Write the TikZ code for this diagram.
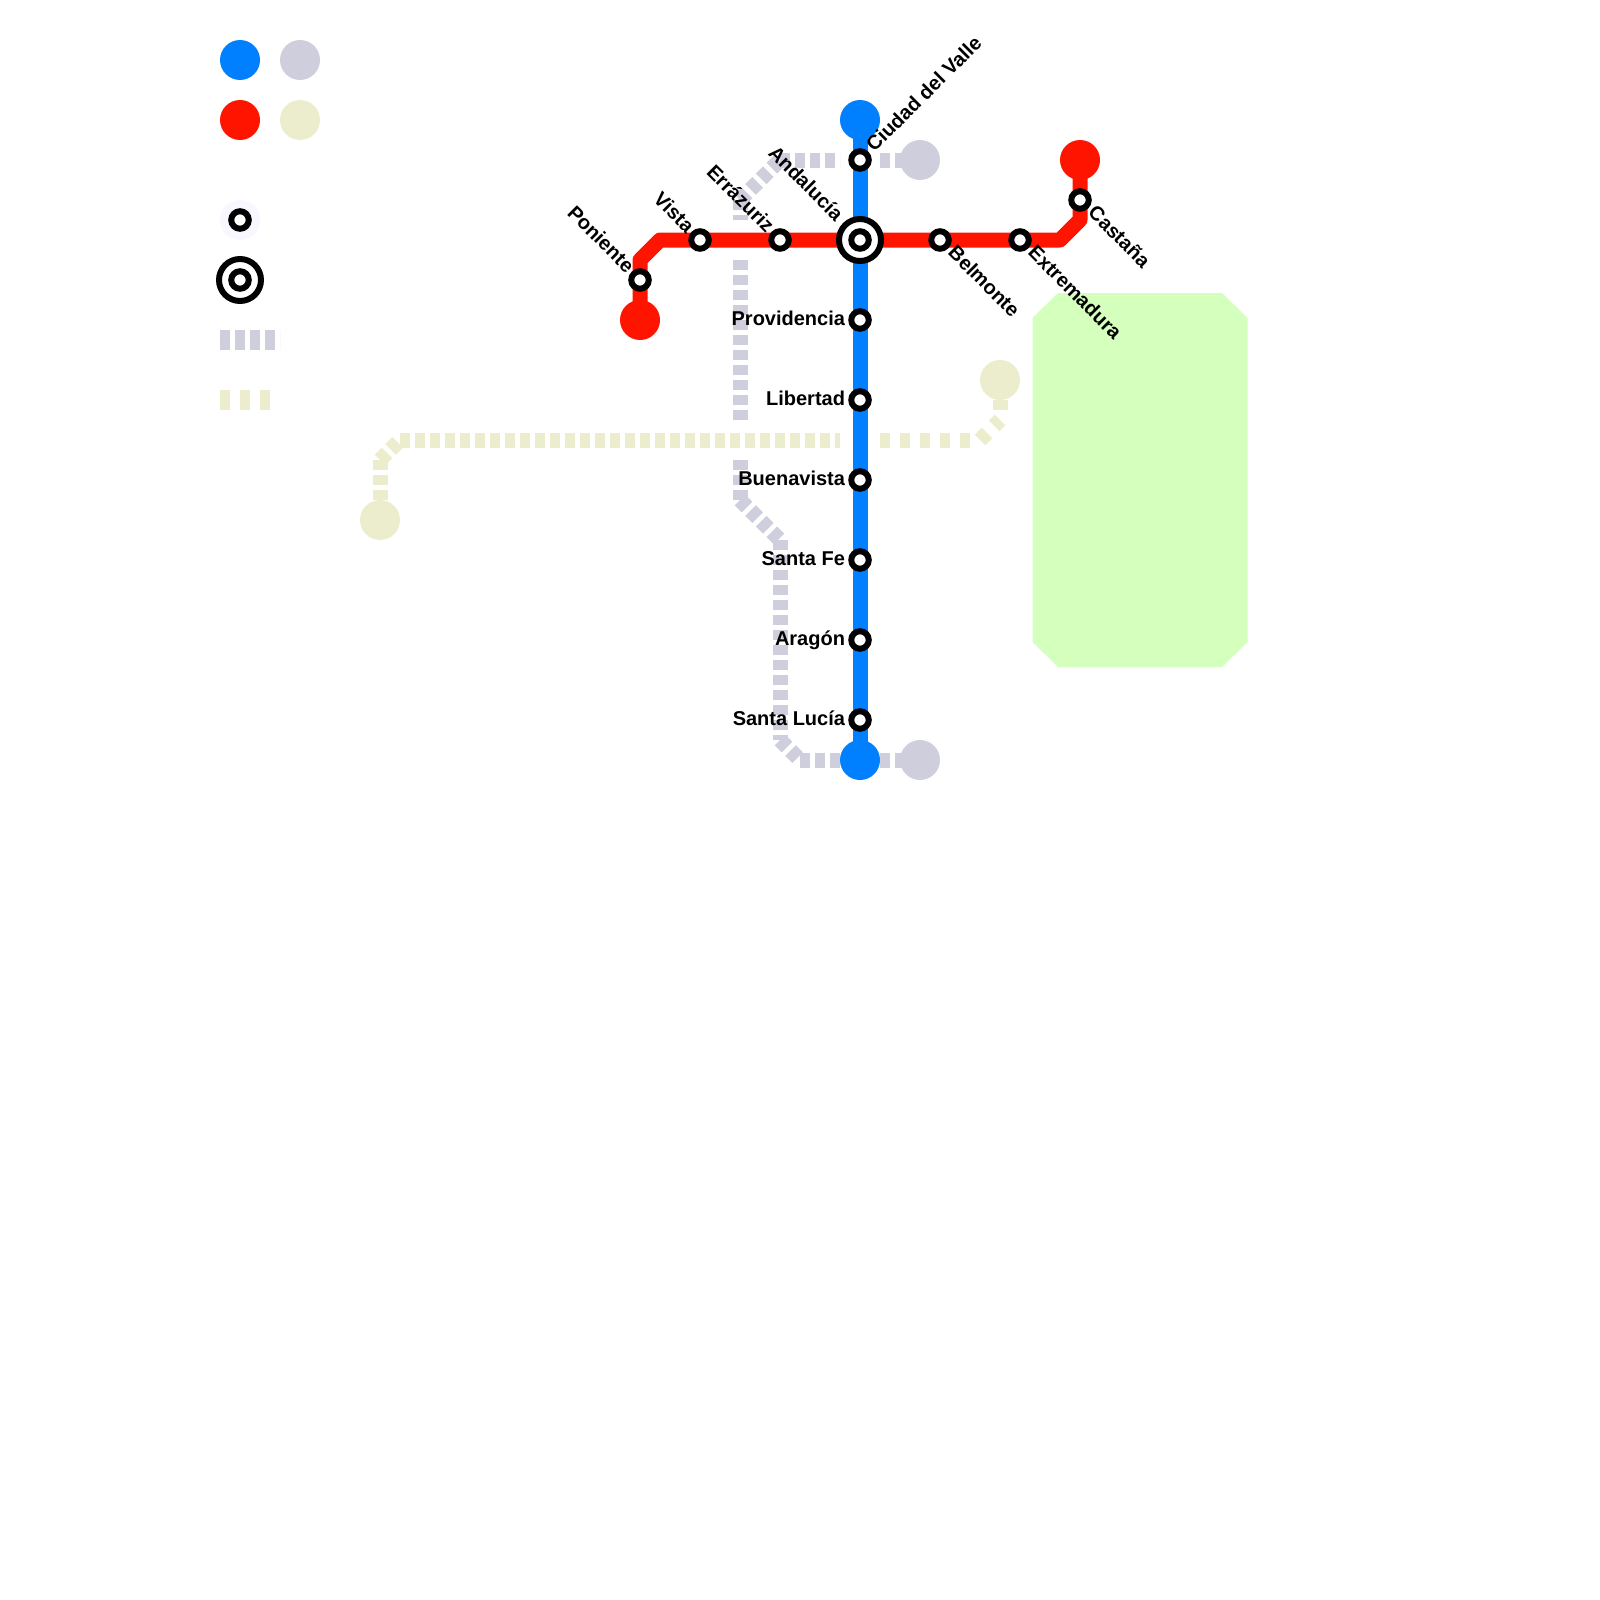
\documentclass[tikz,border=0pt]{standalone}
\usepackage{fontspec}
\setmainfont{Liberation Sans}
\usetikzlibrary{calc}
\pgfdeclarelayer{lines}
\pgfsetlayers{lines,main}
\definecolor{lineblue}{HTML}{0080FF}
\definecolor{linered}{HTML}{FF1400}
\definecolor{linegrey}{HTML}{CFCEDC}
\definecolor{linebeige}{HTML}{ECEDCC}
\definecolor{parkgreen}{HTML}{D4FFBC}
\definecolor{haze}{HTML}{F8F6FF}

\begin{document}
\begin{tikzpicture}[
  x=1pt, y=-1pt,
  terminal/.style = {circle, inner sep=0pt, outer sep=0pt, minimum size=40pt},
  stationnode/.style = {circle, draw=black, fill=white, line width=6pt, inner sep=0pt, outer sep=0pt, minimum size=17.5pt},
  hubnode/.style = {circle, draw=black, fill=white, line width=6pt, inner sep=0pt, outer sep=0pt, minimum size=42pt},
  hazenode/.style = {circle, fill=haze, inner sep=0pt, outer sep=0pt, minimum size=40pt},
  stationname/.style = {font=\fontsize{20}{24}\selectfont\bfseries, inner sep=0pt, outer sep=0pt, text height=14.3pt, text depth=4.2pt},
  nameleft/.style = {stationname, anchor=east, shift={(-15,0)}},
  namenw/.style = {stationname, anchor=east, shift={(-10.4,-9.6)}, rotate=-45},
  namehub/.style = {stationname, anchor=east, shift={(-21.4,-21.6)}, rotate=-45},
  namese/.style = {stationname, anchor=west, shift={(10.6,10.4)}, rotate=-45},
  namene/.style = {stationname, anchor=west, shift={(10.9,-10.6)}, rotate=45},
  greyline/.style = {linegrey, line width=15pt, dash pattern=on 10pt off 5pt},
  beigeleft/.style = {linebeige, line width=15pt, dash pattern=on 10pt off 5pt},
  beigeright/.style = {linebeige, line width=15pt, dash pattern=on 10pt off 10pt},
  mainline/.style = {line width=15pt, line join=round}
]
  \useasboundingbox (0,0) rectangle (1600,1600);

  % ======================================================
  % Park
  % ======================================================
  \fill[parkgreen] (1058,293) -- (1222,293) -- (1247.5,318) -- (1247.5,642)
    -- (1222,667) -- (1058,667) -- (1032.5,642) -- (1032.5,318) -- cycle;

  % ======================================================
  % Legend
  % ======================================================
  \node[terminal, fill=lineblue] (legend_blue) at (240,60) {};
  \node[terminal, fill=linegrey] (legend_grey) at (300,60) {};
  \node[terminal, fill=linered] (legend_red) at (240,120) {};
  \node[terminal, fill=linebeige] (legend_beige) at (300,120) {};
  \node[hazenode] (legend_haze) at (240,220) {};
  \node[stationnode] (legend_station) at (240,220) {};
  \node[hubnode] (legend_hub) at (240,280) {};
  \node[stationnode] (legend_hubin) at (240,280) {};

  \coordinate (legend_g1) at (220,340);
  \coordinate (legend_g2) at (280,340);
  \coordinate (legend_b1) at (220,400);
  \coordinate (legend_b2) at (280,400);
  \draw[greyline, line width=20pt] (legend_g1) -- (legend_g2);
  \draw[beigeright, line width=20pt] (legend_b1) -- (legend_b2);

  % ======================================================
  % Terminals
  % ======================================================
  \node[terminal, fill=linegrey] (grey_top) at (920,160) {};
  \node[terminal, fill=linegrey] (grey_bottom) at (920,760) {};
  \node[terminal, fill=linebeige] (beige_left) at (380,520) {};
  \node[terminal, fill=linebeige] (beige_right) at (1000,380) {};
  \node[terminal, fill=lineblue] (blue_top) at (860,120) {};
  \node[terminal, fill=lineblue] (blue_bottom) at (860,760) {};
  \node[terminal, fill=linered] (red_left) at (640,320) {};
  \node[terminal, fill=linered] (red_right) at (1080,160) {};

  % ======================================================
  % Stations
  % ======================================================
  \node[hubnode] (hub) at (860,240) {};
  \node[stationnode] (hubin) at (860,240) {};
  \node[namehub] (name_hub) at (hub) {Andalucía};

  % blue line, going down
  \node[stationnode] (valle) at (860,160) {};
  \node[namene] (name_valle) at (valle) {Ciudad del Valle};
  \foreach \id/\yy/\txt in {prov/320/Providencia, libertad/400/Libertad, buena/480/Buenavista,
                            fe/560/Santa Fe, aragon/640/Aragón, lucia/720/Santa Lucía} {
    \node[stationnode] (\id) at (860,\yy) {};
    \node[nameleft] (name_\id) at (\id) {\txt};
  }

  % red line, west side
  \node[stationnode] (poniente) at (640,280) {};
  \node[namenw] (name_poniente) at (poniente) {Poniente};
  \node[stationnode] (vista) at (700,240) {};
  \node[namenw] (name_vista) at (vista) {Vista};
  \node[stationnode] (errazuriz) at (780,240) {};
  \node[namenw] (name_errazuriz) at (errazuriz) {Errázuriz};

  % red line, east side
  \node[stationnode] (belmonte) at (940,240) {};
  \node[namese] (name_belmonte) at (belmonte) {Belmonte};
  \node[stationnode] (extrem) at (1020,240) {};
  \node[namese] (name_extrem) at (extrem) {Extremadura};
  \node[stationnode] (castana) at (1080,200) {};
  \node[namese] (name_castana) at (castana) {Castaña};

  % ======================================================
  % Bends and breaks
  % ======================================================
  \coordinate (g_topgap) at (840,160);
  \coordinate (g_topgap2) at (880,160);
  \coordinate (g_a) at (780,160);
  \coordinate (g_b) at (740,200);
  \coordinate (g_redgap) at (740,220);
  \coordinate (g_redgap2) at (740,260);
  \coordinate (g_beigegap) at (740,420);
  \coordinate (g_beigegap2) at (740,460);
  \coordinate (g_c) at (740,500);
  \coordinate (g_d) at (780,540);
  \coordinate (g_e) at (780,740);
  \coordinate (g_f) at (800,760);
  \coordinate (g_botgap) at (840,760);
  \coordinate (g_botgap2) at (880,760);

  \coordinate (b_a) at (380,460);
  \coordinate (b_b) at (400,440);
  \coordinate (b_gap) at (840,440);
  \coordinate (b_gap2) at (880,440);
  \coordinate (b_c) at (980,440);
  \coordinate (b_d) at (1000,420);

  \coordinate (r_a) at (640,260);
  \coordinate (r_b) at (660,240);
  \coordinate (r_c) at (1060,240);
  \coordinate (r_d) at (1080,220);

  \begin{pgfonlayer}{lines}
    % grey line
    \draw[greyline] (g_topgap2) -- (grey_top.center);
    \draw[greyline] (g_a) -- (g_topgap);
    \draw[greyline] (g_b) -- (g_a);
    \draw[greyline] (g_b) -- (g_redgap);
    \draw[greyline] (g_redgap2) -- (g_beigegap);
    \draw[greyline] (g_beigegap2) -- (g_c);
    \draw[greyline] (g_c) -- (g_d);
    \draw[greyline] (g_d) -- (g_e);
    \draw[greyline] (g_e) -- (g_f);
    \draw[greyline] (g_f) -- (g_botgap);
    \draw[greyline] (g_botgap2) -- (grey_bottom.center);

    % beige line
    \draw[beigeleft] (b_a) -- (beige_left.center);
    \draw[beigeleft] (b_a) -- (b_b);
    \draw[beigeleft] (b_b) -- (b_gap);
    \draw[beigeright] (b_gap2) -- (b_c);
    \draw[beigeright] (b_c) -- (b_d);
    \draw[beigeright] (beige_right.center) -- (b_d);

    % blue line
    \draw[mainline, lineblue] (blue_top.center) -- (blue_bottom.center);

    % red line
    \draw[mainline, linered] (red_left.center) -- (r_a) -- (r_b) -- (r_c) -- (r_d) -- (red_right.center);
  \end{pgfonlayer}

\end{tikzpicture}
\end{document}
